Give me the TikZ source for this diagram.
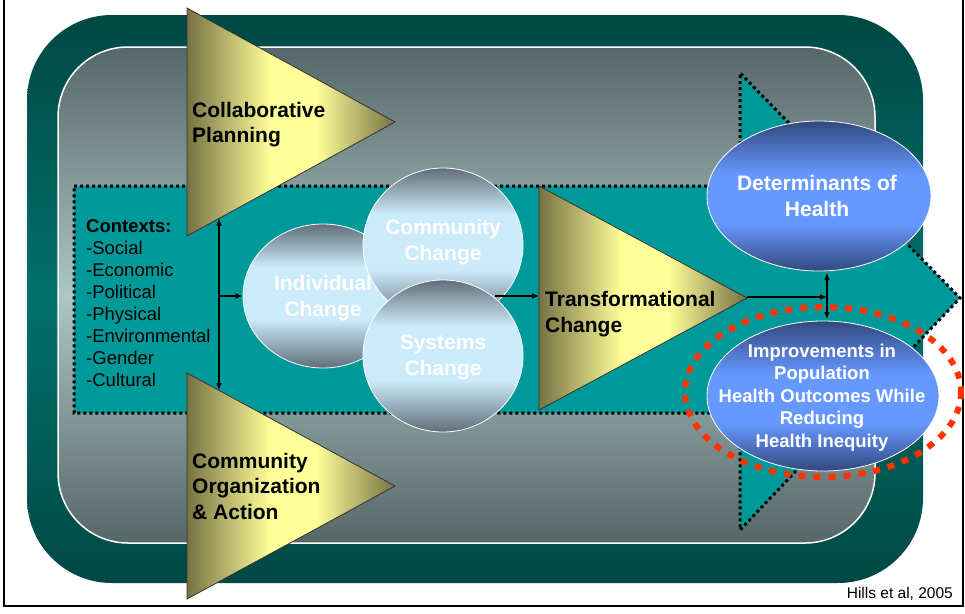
\documentclass[tikz,border=0pt]{standalone}
\usepackage{fontspec}
\setmainfont{Liberation Sans}
\usetikzlibrary{arrows.meta,shapes.geometric}
\definecolor{tealdark}{RGB}{0,72,68}
\definecolor{tealmid}{RGB}{0,112,107}
\definecolor{bandteal}{RGB}{0,153,153}
\definecolor{graydark}{RGB}{86,103,104}
\definecolor{graylight}{RGB}{172,198,198}
\definecolor{olivedark}{RGB}{118,114,68}
\definecolor{yellowlight}{RGB}{255,255,153}
\definecolor{circdark}{RGB}{96,110,122}
\definecolor{circlight}{RGB}{204,235,250}
\definecolor{bluedark}{RGB}{50,72,126}
\definecolor{bluelight}{RGB}{102,153,255}
\definecolor{redring}{RGB}{255,51,0}
\pgfdeclareverticalshading{ballshade}{100bp}{color(0bp)=(circdark); color(25bp)=(circdark); color(42bp)=(circlight); color(60bp)=(circlight); color(75bp)=(circdark); color(100bp)=(circdark)}
\pgfdeclareverticalshading{ovalshade}{100bp}{color(0bp)=(bluedark); color(25bp)=(bluedark); color(41bp)=(bluelight); color(57bp)=(bluelight); color(75bp)=(bluedark); color(100bp)=(bluedark)}
\pgfdeclarehorizontalshading{trishade}{100bp}{color(0bp)=(olivedark); color(25bp)=(olivedark); color(45bp)=(yellowlight); color(56bp)=(yellowlight); color(75bp)=(olivedark); color(100bp)=(olivedark)}
\begin{document}
\begin{tikzpicture}[x=1pt,y=-1pt,
  tri/.style={draw=black!80, line width=0.8pt, shading=trishade},
  tritext/.style={font=\fontsize{21}{25.5}\selectfont\bfseries, align=left, inner sep=0pt, anchor=west},
  ball/.style={ellipse, draw=white, line width=0.8pt, shading=ballshade, inner sep=0pt},
  balltext/.style={font=\fontsize{21}{26}\selectfont\bfseries, text=white, align=center, inner sep=0pt},
  oval/.style={ellipse, draw=white, line width=0.8pt, shading=ovalshade, inner sep=0pt},
  ovaltext/.style={text=white, align=center, inner sep=0pt},
  dotborder/.style={draw=black, line width=3pt, dash pattern=on 3pt off 3pt},
  conn/.style={line width=1.2pt, -{Latex[length=7pt,width=6pt]}},
  conntwo/.style={line width=1.2pt, {Latex[length=7pt,width=6pt]}-{Latex[length=7pt,width=6pt]}},
]
\useasboundingbox (0,0) rectangle (965,613);
\fill[white] (0,0) rectangle (965,613);
\begin{scope}
  \clip (0,0) rectangle (965,613);
  \draw[line width=2pt] (4,-10) rectangle (963,606);
\end{scope}
% outer and inner rounded panels
\path[rounded corners=85pt, top color=tealdark, bottom color=tealdark, middle color=tealmid] (27,15) rectangle (923,583);
\path[draw=white, line width=1.5pt, rounded corners=70pt, top color=graydark, bottom color=graydark, middle color=graylight] (58,47) rectangle (875,543);
% teal band arrow
\path[fill=bandteal, dotborder] (74,186) -- (740,186) -- (740,73) -- (960,298) -- (740,530) -- (740,413) -- (74,413) -- cycle;
% side triangles
\path[tri] (187,8) -- (395,122) -- (187,236) -- cycle;
\node[tritext] (cp) at (192,124.6) {Collaborative\\Planning};
\path[tri] (187,373) -- (395,486) -- (187,599) -- cycle;
\node[tritext] (coa) at (192,486.3) {Community\\Organization\\\& Action};
% contexts
\node[anchor=west, align=left, inner sep=0pt, font=\fontsize{18.5}{22}\selectfont] (ctx) at (86,303.5)
  {{\bfseries Contexts:}\\-Social\\-Economic\\-Political\\-Physical\\-Environmental\\-Gender\\-Cultural};
% circles
\node[ball, minimum width=160pt, minimum height=144pt] (ind) at (323,296) {};
\node[balltext] (indT) at (323,298) {Individual\\Change};
\node[ball, minimum width=160pt, minimum height=154pt] (com) at (443,245) {};
\node[balltext] (comT) at (443,242) {Community\\Change};
\node[ball, minimum width=160pt, minimum height=152pt] (sys) at (443,356) {};
\node[balltext] (sysT) at (443,357.5) {Systems\\Change};
% transformational
\path[tri] (539,186) -- (747,298) -- (539,410) -- cycle;
\node[tritext] (tr) at (545,314) {Transformational\\Change};
% right ovals
\node[oval, minimum width=224pt, minimum height=150pt] (det) at (819,196) {};
\node[ovaltext, font=\fontsize{21}{26}\selectfont\bfseries] (detT) at (817,196.3) {Determinants of\\Health};
\node[oval, minimum width=232pt, minimum height=150pt] (imp) at (823,396) {};
\node[ovaltext, font=\fontsize{18.5}{22.5}\selectfont\bfseries] (impT) at (822,397.6)
  {Improvements in\\Population\\Health Outcomes While\\Reducing\\Health Inequity};
\draw[redring, line width=6pt, dash pattern=on 7pt off 8pt] (823,392) ellipse [x radius=138, y radius=85];
% connectors
\coordinate (vtop) at (219,218.5);
\coordinate (vbot) at (219,390);
\coordinate (vmid) at (219,296);
\draw[conntwo] (vtop) -- (vbot);
\draw[conn] (vmid) -- (ind.west);
\coordinate (lens) at (495,296);
\coordinate (trW) at (539,296);
\draw[conn] (lens) -- (trW);
\coordinate (trTip) at (747,297);
\coordinate (jx) at (827,297);
\draw[conn] (trTip) -- (jx);
\coordinate (dv1) at (827,273);
\coordinate (dv2) at (827,319);
\draw[conntwo] (dv1) -- (dv2);
% credit
\node[anchor=base east, inner sep=0pt, font=\fontsize{15.5}{18}\selectfont] (cred) at (953,598) {Hills et al, 2005};
\end{tikzpicture}
\end{document}
